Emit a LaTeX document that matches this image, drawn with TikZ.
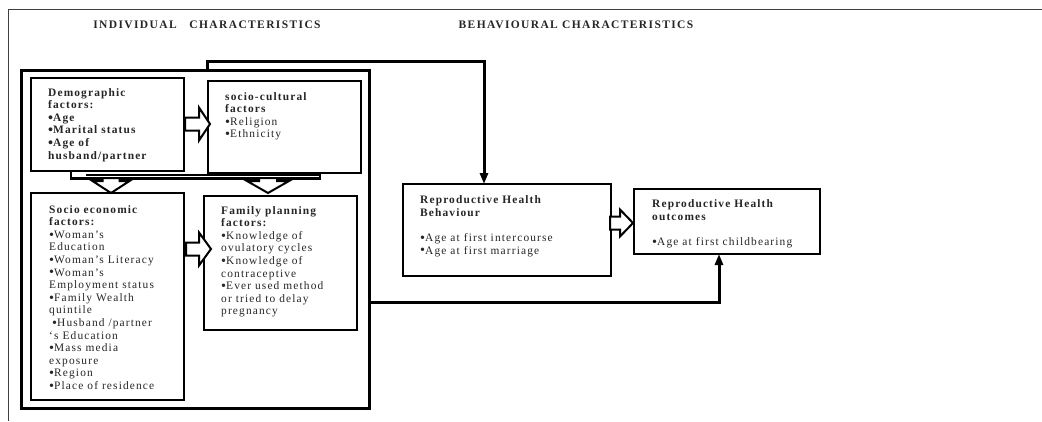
\documentclass[tikz,border=0pt]{standalone}
\usepackage{fontspec}
\usepackage{graphicx}
\setmainfont{Liberation Serif}[LetterSpace=10]
\newfontfamily\headfont{Liberation Serif}[LetterSpace=12]
\newcommand\bul{\raisebox{-0.07em}{\scalebox{1.25}{\textbullet}}}
\usetikzlibrary{arrows.meta}
\begin{document}
\begin{tikzpicture}[x=1pt,y=-1pt,
  box/.style={draw, line width=2.6pt, inner sep=0pt, outer sep=0pt, anchor=north west},
  txt/.style={anchor=north west, inner sep=0pt, align=left, text=black!85, font=\fontsize{11.4}{12.6}\selectfont},
  hollow/.style={draw, line width=2pt, fill=white, line join=miter},
  conn/.style={draw, line width=3pt, line join=miter, -{Triangle[length=11pt,width=8pt]}},
  frame/.style={draw=black!75, line width=1pt},
  head/.style={text=black!85, font=\headfont\bfseries\fontsize{11.5}{12}\selectfont}
]
\useasboundingbox (0,0) rectangle (1042,421);
\fill[white] (0,0) rectangle (1042,421);
% outer frame
\draw[frame] (8,421) -- (8,9) -- (1042,9);
% headings
\node[head] (h1) at (207,25) {INDIVIDUAL\ \ \ CHARACTERISTICS};
\node[head] (h2) at (576,25) {BEHAVIOURAL CHARACTERISTICS};
% boxes
\node[box, line width=3pt, minimum width=348pt, minimum height=338pt] (big) at (21,70) {};
\node[box, minimum width=153pt, minimum height=93pt] (demo) at (31,78) {};
\node[box, minimum width=153pt, minimum height=92pt] (soccult) at (208,81) {};
\node[box, minimum width=153pt, minimum height=207pt] (soceco) at (31,193) {};
\node[box, minimum width=153pt, minimum height=134pt] (fp) at (204,196) {};
\node[box, minimum width=208pt, minimum height=92pt] (rhb) at (403,184) {};
\node[box, minimum width=186pt, minimum height=65pt] (rho) at (634,189) {};
% texts
\node[txt] (tdemo) at (48,88) {\bfseries Demographic\\ \bfseries factors:\\ \bfseries\bul Age\\ \bfseries\bul Marital status\\ \bfseries\bul Age of\\ \bfseries husband/partner};
\node[txt] (tsoccult) at (225,92) {\textbf{socio-cultural}\\ \textbf{factors}\\ \bul Religion\\ \bul Ethnicity};
\node[txt] (tsoceco) at (49,205) {\textbf{Socio economic}\\ \textbf{factors:}\\ \bul Woman's\\ Education\\ \bul Woman's Literacy\\ \bul Woman's\\ Employment status\\ \bul Family Wealth\\ quintile\\ \hspace*{3pt}\bul Husband /partner\\ `s Education\\ \bul Mass media\\ exposure\\ \bul Region\\ \bul Place of residence};
\node[txt] (tfp) at (221,206) {\textbf{Family planning}\\ \textbf{factors:}\\ \bul Knowledge of\\ ovulatory cycles\\ \bul Knowledge of\\ contraceptive\\ \bul Ever used method\\ or tried to delay\\ pregnancy};
\node[txt] (trhb) at (420,195.5) {\textbf{Reproductive Health}\\ \textbf{Behaviour}\\[12.6pt] \bul Age at first intercourse\\ \bul Age at first marriage};
\node[txt] (trho) at (652,199.5) {\textbf{Reproductive Health}\\ \textbf{outcomes}\\[12.6pt] \bul Age at first childbearing};
% bracket under top boxes
\draw[line width=2.2pt, line join=miter] (71,171) -- (71,178.5) -- (320,178.5) -- (320,173);
\draw[line width=1.8pt] (86,175) -- (320,175);
% hollow block arrows
\draw[hollow] (185,117.5) -- (199,117.5) -- (199,107.5) -- (210,124) -- (199,140.5) -- (199,130.5) -- (185,130.5) -- cycle;
\draw[hollow] (186,242.5) -- (199,242.5) -- (199,232.5) -- (211,249) -- (199,265.5) -- (199,255.5) -- (186,255.5) -- cycle;
\draw[hollow] (610,216.5) -- (620,216.5) -- (620,209.5) -- (633,223) -- (620,236.5) -- (620,229.5) -- (610,229.5) -- cycle;
\draw[hollow] (102.5,178) -- (119.5,178) -- (119.5,181) -- (129.5,181) -- (111,193) -- (92.5,181) -- (102.5,181) -- cycle;
\draw[hollow] (259,178) -- (277,178) -- (277,181) -- (289,181) -- (268,193) -- (247,181) -- (259,181) -- cycle;
% connectors
\coordinate (c1) at (207,61);
\coordinate (c2) at (484,61);
\coordinate (c3) at (719,302);
\draw[conn] (c1 |- big.north) -- (c1) -- (c2) -- (c2 |- rhb.north);
\draw[conn] (c3 -| big.east) -- (c3) -- (c3 |- rho.south);
\end{tikzpicture}
\end{document}
